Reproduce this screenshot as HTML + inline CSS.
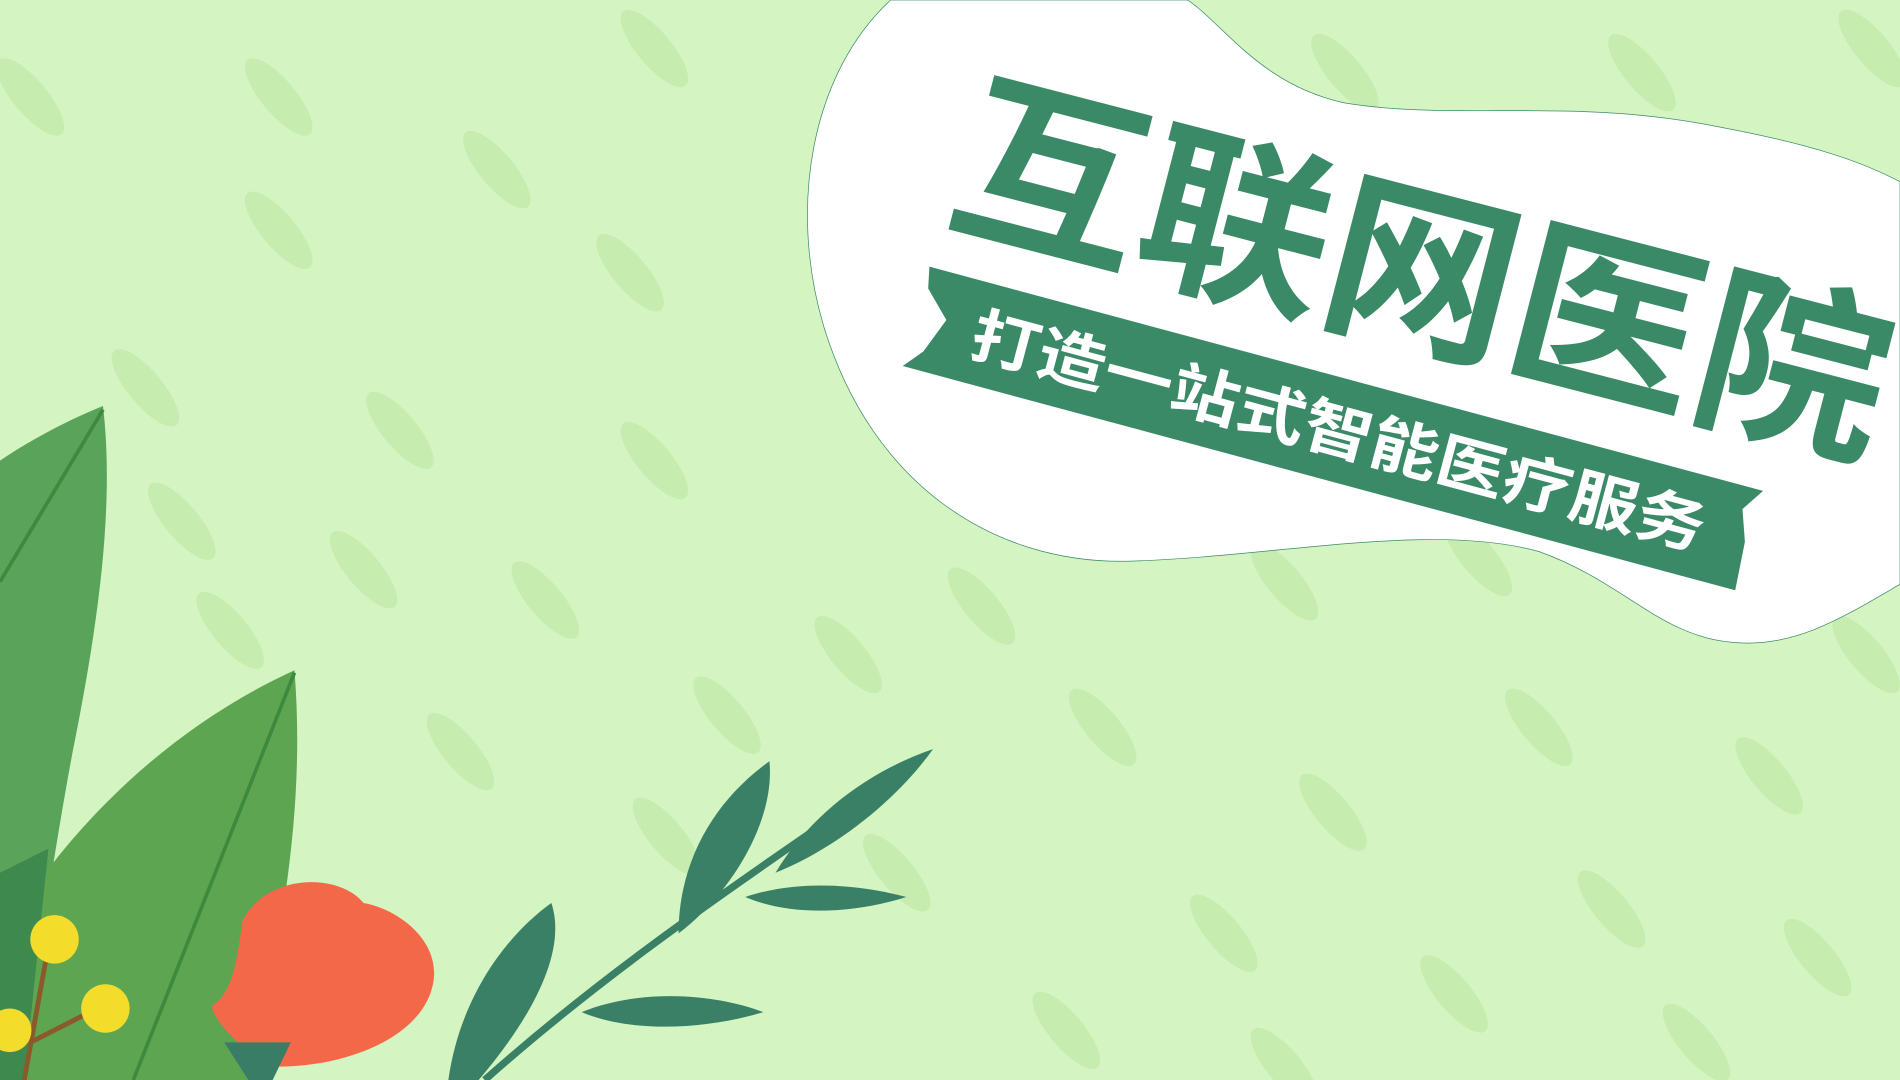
<!DOCTYPE html>
<html><head><meta charset="utf-8"><style>
html,body{margin:0;padding:0;width:1900px;height:1080px;overflow:hidden;background:#d4f4c1}
svg{display:block}
</style></head><body>
<svg width="1900" height="1080" viewBox="0 0 1568 891" preserveAspectRatio="none" xmlns="http://www.w3.org/2000/svg">
<rect x="0" y="0" width="1568" height="891" fill="#d4f4c1"/>
<g id="bgleaves" fill="#c6ecb0"></g>
<path d="M735,0 L980,0 C1010,20 1040,70 1110,85 C1200,100 1300,80 1420,105 C1500,120 1540,135 1568,150 L1568,482 C1520,510 1480,535 1430,530 C1370,525 1340,480 1270,455 C1180,430 1050,460 930,463 C820,465 720,400 680,270 C650,170 670,60 735,0 Z" fill="#ffffff" stroke="#3a8a68" stroke-width="0.6"/>
<g transform="translate(778,178) rotate(14.5)">
<text x="0" y="0" font-family="'Liberation Sans','Noto Sans CJK SC',sans-serif" font-weight="700" font-size="152" fill="#3a8a68" textLength="790" lengthAdjust="spacingAndGlyphs">互联网医院</text>
</g>
<polygon points="767,220 1455,405 1438,420 1440,447 1432,487 745,302 762,290 781,264 766,238" fill="#3a8a68"/>
<g transform="translate(798,292) rotate(15)">
<text x="0" y="0" font-family="'Liberation Sans','Noto Sans CJK SC',sans-serif" font-weight="700" font-size="50" fill="#ffffff" textLength="625" lengthAdjust="spacingAndGlyphs">打造一站式智能医疗服务</text>
</g>
<g>
<path d="M85,335 C95,420 80,520 60,620 C45,700 30,800 20,891 L0,891 L0,380 C30,360 60,345 85,335 Z" fill="#5aa35a"/>
<path d="M85,338 L0,480" stroke="#3d8a3e" stroke-width="3" fill="none"/>
<path d="M243,553 C250,640 240,720 225,800 L210,891 L0,891 L10,760 C60,680 140,600 243,553 Z" fill="#5ea552"/>
<path d="M243,555 L110,891" stroke="#3d8a3e" stroke-width="3" fill="none"/>
<path d="M0,720 L40,700 L20,891 L0,891 Z" fill="#3e8a4e"/>
<path d="M200,760 C220,720 280,720 300,745 C330,750 370,780 355,820 C340,860 280,880 230,880 C200,870 175,840 175,830 C190,820 195,800 200,760 Z" fill="#f4684a"/>
<path d="M185,860 L240,860 L225,891 L205,891 Z" fill="#3a7d66"/>
<path d="M40,780 L20,891 M25,860 L80,832" stroke="#8a5a2a" stroke-width="4" fill="none"/>
<circle cx="45" cy="775" r="20" fill="#f4dc2a"/>
<circle cx="87" cy="832" r="20" fill="#f4dc2a"/>
<circle cx="8" cy="850" r="18" fill="#f4dc2a"/>
<path d="M400,891 C480,820 560,760 760,625" stroke="#3a8066" stroke-width="6" fill="none"/>
<path d="M455,745 C470,790 430,850 395,891 L370,891 C380,820 420,770 455,745 Z" fill="#3a8066"/>
<path d="M635,628 C640,680 600,740 560,770 C560,710 590,660 635,628 Z" fill="#3a8066"/>
<path d="M770,618 C740,660 690,700 640,720 C670,670 720,635 770,618 Z" fill="#3a8066"/>
<path d="M615,740 C660,725 710,730 748,740 C700,755 650,755 615,740 Z" fill="#3a8066"/>
<path d="M480,835 C530,815 590,820 630,835 C580,850 520,852 480,835 Z" fill="#3a8066"/>
</g>
</svg>
<script>
const leafPositions=[[25,80],[230,80],[540,40],[410,140],[230,190],[520,225],[120,320],[330,355],[540,380],[450,495],[190,520],[380,620],[550,690],[1110,60],[1355,60],[1545,40],[700,540],[910,600],[1060,480],[1270,600],[1460,640],[740,720],[1100,670],[1330,750],[1500,790],[880,850],[1010,770],[1200,820],[1400,860],[150,430],[300,470],[600,590],[1060,880],[1540,540],[810,500],[1220,460]];
const g=document.getElementById('bgleaves');
leafPositions.forEach(p=>{
 const e=document.createElementNS('http://www.w3.org/2000/svg','ellipse');
 
 
 e.setAttribute('cx',p[0]);e.setAttribute('cy',p[1]);
 e.setAttribute('rx',40);e.setAttribute('ry',14);
 e.setAttribute('transform','rotate(50 '+p[0]+' '+p[1]+')');
 g.appendChild(e);
});
</script>
</body></html>
